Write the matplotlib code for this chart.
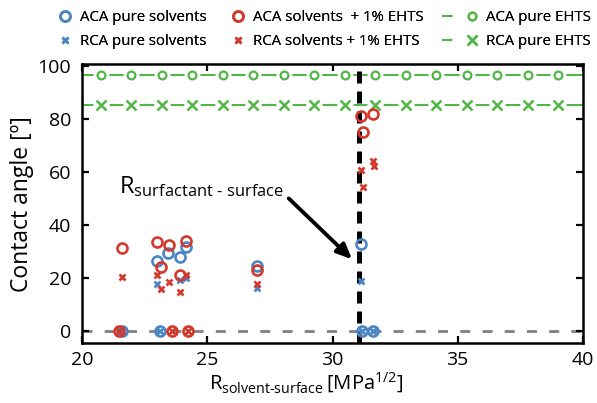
import matplotlib
matplotlib.use("Agg")
import matplotlib.pyplot as plt
from matplotlib.legend_handler import HandlerTuple

plt.rcParams['font.family'] = ['Open Sans', 'DejaVu Sans']
plt.rcParams['mathtext.fontset'] = 'custom'
plt.rcParams['mathtext.rm'] = 'Open Sans'
plt.rcParams['mathtext.it'] = 'Open Sans'

BLUE = '#4a86c6'
RED = '#d3392b'
GREEN = '#52b646'

# Advancing / receding contact angles of pure solvents
aca_pure_x = [21.6, 23.11, 31.17, 31.63, 22.99, 23.43, 23.9, 24.13, 27.0, 31.12]
aca_pure_y = [0, 0, 0, 0, 26.5, 29.5, 27.8, 31.6, 24.6, 32.8]
rca_pure_x = [21.6, 23.11, 31.17, 31.63, 23.0, 23.9, 24.13, 27.0, 31.12]
rca_pure_y = [0, 0, 0, 0, 17.7, 19.2, 19.8, 16.3, 18.9]

# Solvents with 1% EHTS
aca_ehts_x = [21.46, 23.57, 24.23, 21.59, 23.0, 23.45, 24.13, 23.14, 23.9, 27.0,
              31.14, 31.6, 31.2]
aca_ehts_y = [0, 0, 0, 31.1, 33.5, 32.3, 34.1, 24.0, 21.0, 23.0,
              81.1, 81.9, 75.0]
rca_ehts_x = [21.46, 23.57, 24.23, 21.59, 23.0, 23.13, 23.45, 23.9, 24.13, 27.0,
              31.14, 31.2, 31.6, 31.65]
rca_ehts_y = [0, 0, 0, 20.5, 21.1, 15.8, 18.6, 14.5, 20.9, 17.7,
              60.8, 54.2, 64.3, 62.3]

# Pure EHTS reference lines
ehts_x = [20.73, 21.95, 23.17, 24.39, 25.61, 26.83, 28.05, 29.27, 30.49, 31.71,
          32.93, 34.15, 35.37, 36.59, 37.81, 39.03]
aca_ehts_pure = [96.8] * len(ehts_x)
rca_ehts_pure = [85.2] * len(ehts_x)

r_surfactant_surface = 31.05

fig = plt.figure(figsize=(5.97, 4.03), dpi=100)
ax = fig.add_axes([0.138, 0.149, 0.838, 0.691])

ax.set_xlim(20, 40)
ax.set_ylim(-4.6, 100.6)

# zero reference
ax.axhline(0, color='#808080', lw=2.0, dashes=(3.6, 4.4), zorder=1)

# pure EHTS lines with gaps around markers
line_kw = dict(color=GREEN, lw=1.5, zorder=2)
l_aca = ax.plot([20, 40], [aca_ehts_pure[0]] * 2, **line_kw)[0]
l_rca = ax.plot([20, 40], [rca_ehts_pure[0]] * 2, **line_kw)[0]
gap_a = ax.plot(ehts_x, aca_ehts_pure, 'o', ms=10.4, color='white', zorder=3)[0]
gap_r = ax.plot(ehts_x, rca_ehts_pure, 'o', ms=10.8, color='white', zorder=3)[0]
m_aca = ax.plot(ehts_x, aca_ehts_pure, 'o', ms=5.6, mfc='none', mec=GREEN,
                mew=1.6, zorder=4)[0]
m_rca = ax.plot(ehts_x, rca_ehts_pure, 'x', ms=6.8, mec=GREEN, mew=1.8,
                zorder=4)[0]

# vertical R surfactant-surface
ax.axvline(r_surfactant_surface, color='black', lw=3.6, dashes=(2.4, 1.6), zorder=2)

circ_kw = dict(ls='none', marker='o', ms=7.2, mfc='none', mew=1.9)
cross_kw = dict(ls='none', marker='x', ms=5.0, mew=1.9)
h1 = ax.plot(aca_pure_x, aca_pure_y, mec=BLUE, zorder=5, **circ_kw)[0]
h2 = ax.plot(rca_pure_x, rca_pure_y, mec=BLUE, zorder=5, **cross_kw)[0]
h3 = ax.plot(aca_ehts_x, aca_ehts_y, mec=RED, zorder=6, **circ_kw)[0]
h4 = ax.plot(rca_ehts_x, rca_ehts_y, mec=RED, zorder=6, **cross_kw)[0]

# annotation
ax.annotate('', xy=(30.78, 27.0), xytext=(28.25, 50.0),
            arrowprops=dict(arrowstyle='-|>,head_length=0.9,head_width=0.4',
                            color='black', lw=2.8, shrinkA=0, shrinkB=0),
            zorder=7)
ax.text(21.45, 54.5, r'$\mathrm{R}_{\text{surfactant - surface}}$', fontsize=17,
        ha='left', va='center')

ax.set_xticks([20, 25, 30, 35, 40])
ax.set_yticks([0, 20, 40, 60, 80, 100])
ax.tick_params(direction='in', length=5, width=1.6, labelsize=14,
               top=True, right=True)
ax.tick_params(axis='y', pad=8)
ax.tick_params(axis='x', pad=6)
for s in ax.spines.values():
    s.set_linewidth(1.8)

ax.set_ylabel('Contact angle [º]', fontsize=16.5)
ax.yaxis.set_label_coords(-0.096, 0.5)
ax.set_xlabel(r'$\mathrm{R}_{\text{solvent-surface}}\,[\mathrm{MPa}^{1/2}]$',
              fontsize=14.6)
ax.xaxis.set_label_coords(0.447, -0.10)

W, H = 597.0, 403.0
leg_kw = dict(loc='upper left', frameon=False, fontsize=10.8, borderpad=0,
              borderaxespad=0, labelspacing=0.6)
groups = [
    ([h1, h2], ['ACA pure solvents', 'RCA pure solvents'], 57.0, 1.0, 0.5),
    ([h3, h4], ['ACA solvents  + 1% EHTS', 'RCA solvents + 1% EHTS'], 230.0, 1.0, 0.55),
    ([(l_aca, gap_a, m_aca), (l_rca, gap_r, m_rca)], ['ACA pure EHTS', 'RCA pure EHTS'],
     443.0, 2.3, 0.6),
]
for hs, ls, x0, hl, tp in groups:
    lg = fig.legend(hs, ls, bbox_to_anchor=(x0 / W, 1 - 10 / H),
                    handlelength=hl, handletextpad=tp,
                    handler_map={tuple: HandlerTuple(ndivide=None)}, **leg_kw)
    fig.add_artist(lg)

fig.savefig('out.png', dpi=100)
